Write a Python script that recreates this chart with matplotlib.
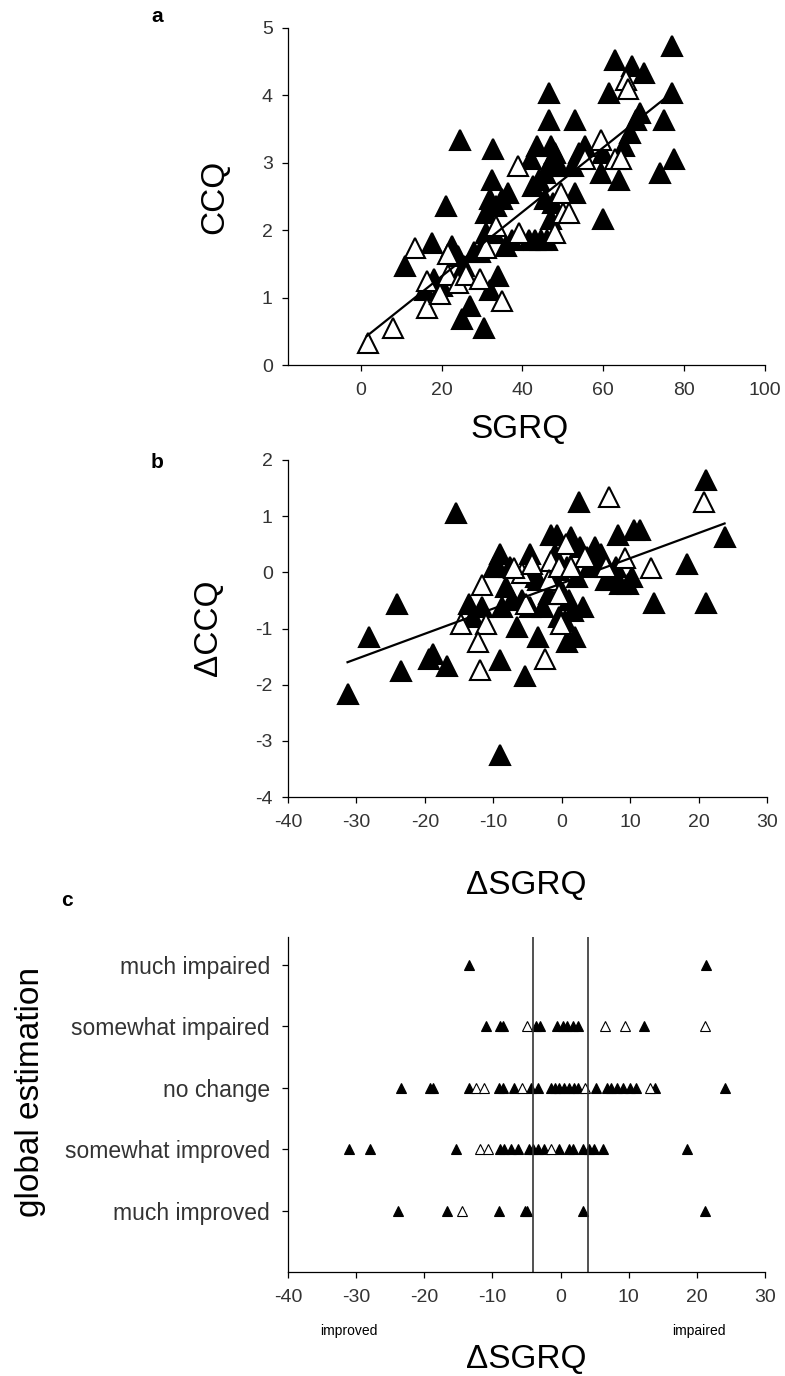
import matplotlib
matplotlib.use("Agg")
import matplotlib.pyplot as plt

plt.rcParams['font.family'] = ['Liberation Sans', 'DejaVu Sans']
plt.rcParams['axes.unicode_minus'] = False

# ---- panel a: SGRQ vs CCQ ----
a_open_x = [1.7, 8.0, 13.5, 16.5, 16.5, 19.5, 21.5, 21.5, 24, 26, 29.5, 31, 33.5, 35,
            39, 39.2, 48, 49.5, 50, 51.5, 55.5, 59.5, 63, 64.5, 65.5, 66]
a_open_y = [0.33, 0.55, 1.74, 0.85, 1.25, 1.05, 1.64, 1.34, 1.22, 1.34, 1.27, 1.74, 2.06, 0.95,
            2.95, 1.96, 1.96, 2.55, 2.26, 2.26, 3.05, 3.34, 3.05, 3.05, 4.23, 4.09]
a_fill_x = [11, 17.5, 21, 24.5, 25, 30.5, 27, 16, 18, 20, 22.5, 24, 25.5, 28, 29.5,
            32, 34, 32.5, 32.8, 31, 32, 33.5, 35, 36.5, 31, 33, 36, 37.5,
            41.5, 43, 44.5, 46, 42.5, 44, 45.5, 42, 43.5, 46.5, 46.5, 47, 48, 46.5, 49,
            47, 47.5, 45.5, 53, 53, 52.5, 54, 55.5, 60, 59.5, 60, 63, 61.5,
            64, 65, 66.5, 68, 69, 67, 70, 75, 74, 77, 77, 77.5]
a_fill_y = [1.47, 1.81, 2.36, 3.34, 0.68, 0.55, 0.87, 1.12, 1.27, 1.17, 1.76, 1.62, 1.47, 1.67, 1.67,
            1.12, 1.32, 2.75, 3.2, 2.26, 2.46, 2.36, 2.46, 2.55, 1.96, 1.96, 1.76, 1.86,
            1.86, 1.86, 1.86, 1.86, 2.65, 2.75, 2.85, 3.05, 3.25, 4.04, 3.64, 3.25, 3.15, 2.95, 2.95,
            2.16, 2.41, 2.46, 3.64, 2.55, 2.95, 3.15, 3.25, 2.16, 2.85, 3.15, 4.53, 4.04,
            2.75, 3.25, 3.44, 3.64, 3.74, 4.43, 4.33, 3.64, 2.85, 4.73, 4.04, 3.05]
a_fit_x = [1.5, 77]
a_fit_y = [0.43, 4.04]

# ---- panel b: delta SGRQ vs delta CCQ ----
b_fill_x = [-31.3, -28.1, -24.1, -23.5, -18.8, -19.4, -16.7, -15.4, -9.0, -9.0, -5.3, -3.4,
            0.8, 1.96, 2.55, 8.2, 11.4, 10.6, 13.5, 18.3, 21.1, 21.1, 23.9,
            -13.5, -12.9, -11.7, -9.0, -9.3, -8.1, -7.2, -6.6, -4.6, -4.3, -3.4, -2.8,
            -1.6, -0.7, -1.0, -0.4, 0.2, 0.5, 1.1, 1.4, 2.6, 3.1, 3.7, 4.9, 5.8, 6.4, 7.3,
            7.9, 8.5, 9.7, 10.3, -4.6, -1.9, -8.7, -5.8, -3.7, -1.0, 1.7, 2.3, 4.0, 6.1,
            -9.9, -7.5, -0.4, 0.8]
b_fill_y = [-2.16, -1.15, -0.56, -1.75, -1.45, -1.54, -1.66, 1.06, -3.26, -1.56, -1.84, -1.15,
            -1.24, -1.15, 1.25, 0.66, 0.75, 0.75, -0.55, 0.15, 1.65, -0.55, 0.63,
            -0.56, -0.8, -0.62, 0.33, 0.1, -0.26, -0.5, -0.97, 0.33, 0.04, -0.14, -0.62,
            0.66, 0.66, 0.33, 0.04, -0.38, -0.86, -0.5, 0.63, 0.45, -0.62, 0.27, 0.45, 0.33, -0.14, -0.14,
            0.1, -0.2, -0.2, -0.08, -0.62, -0.38, -0.62, -0.5, -0.08, -0.14, -0.68, -0.08, 0.1, 0.15,
            0.1, 0.1, -0.8, 0.1]
b_open_x = [6.9, 20.8, 13.0, 9.2, 0.6, -2.5, -12.0, -11.1, -14.7, -12.3, -11.6, -0.1, 3.4,
            -1.6, -1.9, -5.2, -5.8, -6.9, -0.4, 1.4, 6.4, -0.4, -4.3]
b_open_y = [1.35, 1.25, 0.07, 0.26, 0.51, -1.54, -1.73, -0.92, -0.92, -1.24, -0.23, -0.92, 0.27,
            0.21, -0.14, -0.56, -0.02, 0.07, 0.1, 0.1, 0.1, -0.38, 0.15]
b_fit_x = [-31.3, 23.8]
b_fit_y = [-1.6, 0.87]

# ---- panel c: global estimation ----
categories = ["much improved", "somewhat improved", "no change",
              "somewhat impaired", "much impaired"]
c_fill = {
    "much impaired": [-13.4, 21.4],
    "somewhat impaired": [-11.0, -8.9, -8.5, -3.6, -3.0, -0.5, 0.3, 1.0, 1.8, 2.5, 12.3],
    "no change": [-23.4, -19.2, -18.7, -13.4, -9.1, -8.5, -6.9, -4.4, -3.3, -1.45, -0.8, -0.2,
                  0.55, 1.2, 1.9, 2.5, 5.2, 6.8, 7.4, 8.3, 9.2, 10.2, 11.1, 13.9, 24.1],
    "somewhat improved": [-31.0, -27.9, -15.3, -8.9, -8.3, -7.3, -6.3, -4.6, -4.0, -3.3, -2.5,
                          -0.3, 1.2, 1.8, 3.3, 4.1, 4.9, 6.2, 18.5],
    "much improved": [-23.8, -16.7, -9.0, -5.2, -5.0, 3.3, 21.2],
}
c_open = {
    "much impaired": [],
    "somewhat impaired": [-4.9, 6.5, 9.4, 21.2],
    "no change": [-12.4, -11.2, -5.6, 3.6, 13.1],
    "somewhat improved": [-11.8, -10.7, -1.45],
    "much improved": [-14.5],
}
cut_lines = [-4, 4]

W, H = 785, 1376
fig = plt.figure(figsize=(W / 100, H / 100), dpi=100)


def box(left, top, right, bottom):
    return [left / W, 1 - bottom / H, (right - left) / W, (bottom - top) / H]


def style(ax):
    for s in ['top', 'right']:
        ax.spines[s].set_visible(False)
    for s in ['left', 'bottom']:
        ax.spines[s].set_linewidth(0.9)
    ax.tick_params(direction='out', length=4, width=0.9, labelsize=14)
    ax.tick_params(axis='y', pad=7)
    ax.tick_params(axis='x', pad=8)
    for lab in ax.get_xticklabels() + ax.get_yticklabels():
        lab.set_color('#333333')


big = dict(marker='^', ms=14, ls='none', mew=1.5, mec='black')

# panel a
ax1 = fig.add_axes(box(288, 28, 765, 365))
ax1.plot(a_fill_x, a_fill_y, mfc='black', **big)
ax1.plot(a_open_x, a_open_y, mfc='white', **big)
ax1.plot(a_fit_x, a_fit_y, color='black', lw=1.6, zorder=5)
ax1.set_xlim(-18, 100)
ax1.set_ylim(0, 5)
ax1.set_xticks(range(0, 101, 20))
ax1.set_yticks(range(0, 6))
style(ax1)

# panel b
ax2 = fig.add_axes(box(288, 460, 767, 797))
ax2.plot(b_fill_x, b_fill_y, mfc='black', **big)
ax2.plot(b_open_x, b_open_y, mfc='white', **big)
ax2.plot(b_fit_x, b_fit_y, color='black', lw=1.6, zorder=5)
ax2.set_xlim(-40, 30)
ax2.set_ylim(-4, 2)
ax2.set_xticks(range(-40, 31, 10))
ax2.set_yticks(range(-4, 3))
style(ax2)

# panel c
ax3 = fig.add_axes(box(288, 937, 765, 1272))
for i, cat in enumerate(categories):
    xs = c_fill[cat]
    ax3.plot(xs, [i + 1] * len(xs), marker='^', ms=7, ls='none', mfc='black', mec='black', mew=0.8)
    xs = c_open[cat]
    ax3.plot(xs, [i + 1] * len(xs), marker='^', ms=7, ls='none', mfc='white', mec='black', mew=0.8)
for xv in cut_lines:
    ax3.axvline(xv, color='#333333', lw=1.2)
ax3.set_xlim(-40, 30)
ax3.set_ylim(0, 5.45)
ax3.set_xticks(range(-40, 31, 10))
ax3.set_yticks(range(1, 6))
ax3.set_yticklabels(categories)
style(ax3)
ax3.tick_params(axis='y', labelsize=16.5, pad=9)

# text labels
fig.text(157 / W, 1 - 17 / H, "a", fontsize=15, fontweight='bold', ha='center', va='center')
fig.text(157 / W, 1 - 463 / H, "b", fontsize=15, fontweight='bold', ha='center', va='center')
fig.text(67 / W, 1 - 900 / H, "c", fontsize=15, fontweight='bold', ha='center', va='center')

fig.text(215 / W, 1 - 197 / H, "CCQ", fontsize=24, rotation=90, ha='center', va='center')
fig.text(520 / W, 1 - 430 / H, "SGRQ", fontsize=24, ha='center', va='center')
fig.text(208 / W, 1 - 628 / H, "\u0394CCQ", fontsize=24, rotation=90, ha='center', va='center')
fig.text(526 / W, 1 - 885 / H, "\u0394SGRQ", fontsize=24, ha='center', va='center')
fig.text(31 / W, 1 - 1092 / H, "global estimation", fontsize=24, rotation=90, ha='center', va='center')
fig.text(349 / W, 1 - 1331 / H, "improved", fontsize=10, ha='center', va='center')
fig.text(699 / W, 1 - 1331 / H, "impaired", fontsize=10, ha='center', va='center')
fig.text(526 / W, 1 - 1360 / H, "\u0394SGRQ", fontsize=24, ha='center', va='center')

fig.savefig("out.png", dpi=100)
